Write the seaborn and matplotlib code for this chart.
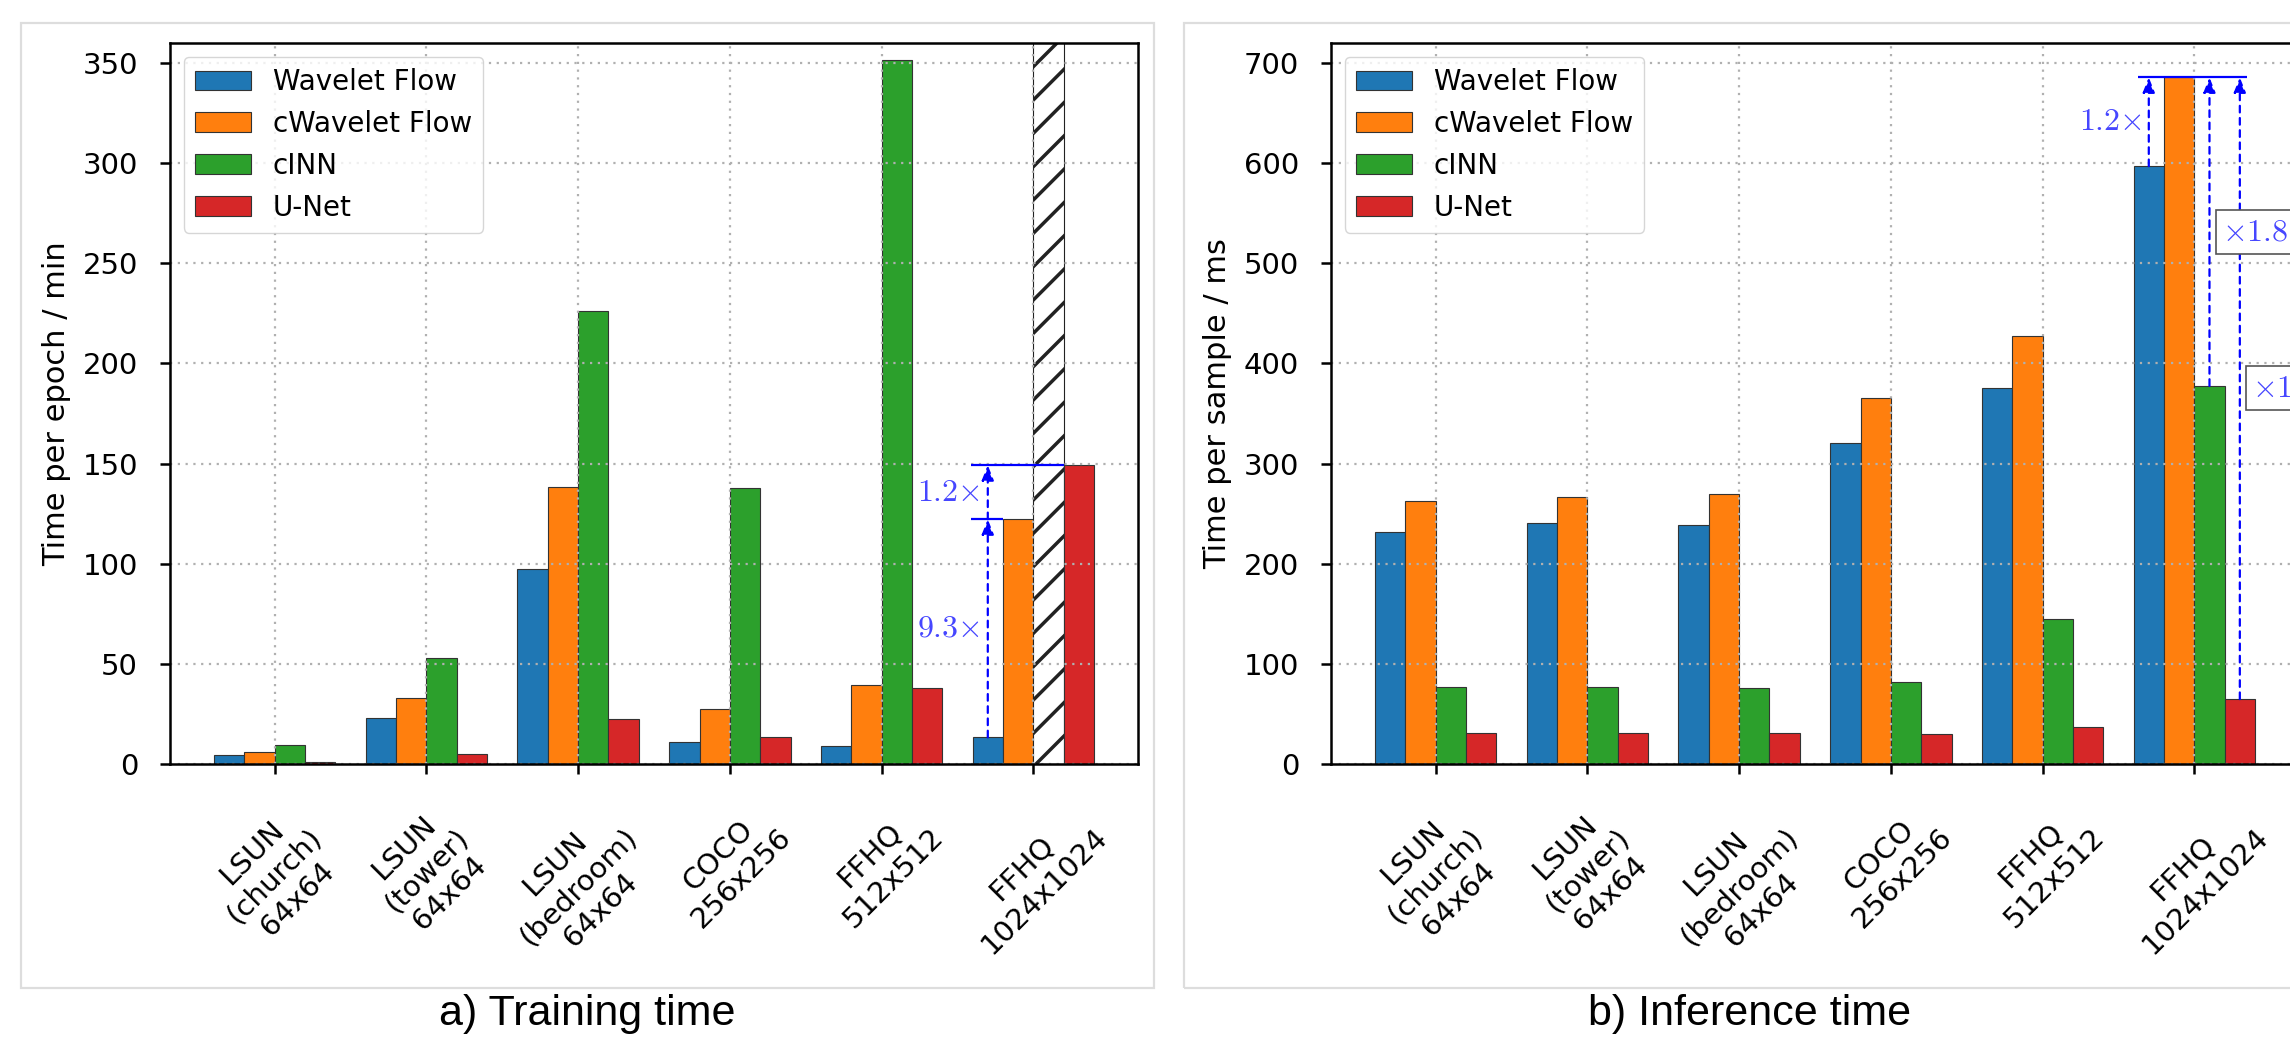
import numpy as np
import pandas as pd
import matplotlib
matplotlib.use("Agg")
import matplotlib.pyplot as plt
import seaborn as sns
from matplotlib.patches import Patch, Rectangle

# ---------------- data ----------------
datasets = ["LSUN\n(church)\n64x64", "LSUN\n(tower)\n64x64", "LSUN\n(bedroom)\n64x64",
            "COCO\n256x256", "FFHQ\n512x512", "FFHQ\n1024x1024"]
models = ["Wavelet Flow", "cWavelet Flow", "cINN", "U-Net"]
colors = ["#1f77b4", "#ff7f0e", "#2ca02c", "#d62728"]

# training time per epoch (min)
train_wavelet = [4.3, 23.2, 97.2, 11.0, 9.2, 13.3]
train_cwavelet = [6.1, 33.2, 138.5, 27.6, 39.5, 122.2]
train_cinn = [9.4, 52.8, 226.3, 137.8, 351.3, 400.0]   # last value is off the chart (hatched)
train_unet = [1.0, 5.1, 22.4, 13.3, 38.0, 149.2]

# inference time per sample (ms)
inf_wavelet = [231.6, 240.8, 238.3, 320.4, 375.5, 597.0]
inf_cwavelet = [262.8, 266.3, 269.4, 365.3, 427.0, 685.7]
inf_cinn = [76.5, 76.5, 75.5, 82.1, 144.9, 377.6]
inf_unet = [31.1, 31.1, 30.6, 30.1, 36.7, 64.8]

train_ratio_labels = [r"$9.3{\times}$", r"$1.2{\times}$"]
inf_ratio_labels = [r"$1.2{\times}$", r"${\times}1.8$", r"${\times}10.6$"]

# ---------------- style ----------------
plt.rcParams.update({
    "font.family": "DejaVu Sans",
    "mathtext.fontset": "cm",
    "hatch.linewidth": 2.5,
    "hatch.color": "black",
})

W, H = 2290, 1043
fig = plt.figure(figsize=(W / 100, H / 100), dpi=100)

ax_pos_a = [170 / W, (H - 764) / H, 968 / W, 721 / H]
ax_pos_b = [1331 / W, (H - 764) / H, 968 / W, 721 / H]
ax_a = fig.add_axes(ax_pos_a)
ax_b = fig.add_axes(ax_pos_b)

ANN = "blue"
TXT = "#4646ff"


def make_df(series):
    vals = np.concatenate(series)
    return pd.DataFrame({
        "dataset": datasets * len(models),
        "model": np.repeat(models, len(datasets)),
        "time": vals,
    })


def draw(ax, series, ylim, ylabel):
    df = make_df(series)
    sns.barplot(data=df, x="dataset", y="time", hue="model", order=datasets,
                hue_order=models, palette=colors, saturation=1, width=0.8,
                edgecolor="#333333", linewidth=0.8, errorbar=None, legend=False, ax=ax)
    ax.set_xlim(-0.69, len(datasets) - 1 + 0.69)
    ax.set_ylim(*ylim)
    ax.set_xlabel("")
    ax.set_ylabel(ylabel, fontsize=22)
    ax.yaxis.set_label_coords(-0.102, 0.5)
    ax.set_xticks(range(len(datasets)))
    ax.set_xticklabels(datasets, rotation=45, ha="center", va="top")
    ax.tick_params(axis="both", length=7, width=1.8, labelsize=21, direction="out")
    ax.tick_params(axis="x", pad=19)
    ax.tick_params(axis="y", pad=16)
    for s in ax.spines.values():
        s.set_linewidth(1.8)
        s.set_color("black")
    ax.grid(True, axis="both", color="#b0b0b0", linestyle=(0, (1, 2.5)), linewidth=1.6)
    handles = [Patch(facecolor=c, edgecolor="#333333", linewidth=0.8, label=m)
               for c, m in zip(colors, models)]
    ax.legend(handles=handles, loc="upper left", fontsize=20)


def arrow(ax, x, y0, y1):
    ax.annotate("", xy=(x, y1), xytext=(x, y0),
                arrowprops=dict(arrowstyle="-|>,head_length=0.45,head_width=0.18",
                                color=ANN, lw=1.6, linestyle=(0, (3, 2.5)),
                                shrinkA=0, shrinkB=0, mutation_scale=20),
                zorder=4)


def bar(ax, hue_i, cat_i):
    p = ax.containers[hue_i][cat_i]
    return p.get_x(), p.get_width(), p.get_height()


# ---------------- panel a ----------------
draw(ax_a, [train_wavelet, train_cwavelet, train_cinn, train_unet], (0, 360),
     "Time per epoch / min")
hp = ax_a.containers[2][5]
hp.set_facecolor("white")
hp.set_hatch("/")
hp.set_edgecolor("#222222")

bx, bw, bh = bar(ax_a, 0, 5)
ox, ow, oh = bar(ax_a, 1, 5)
ux, uw, uh = bar(ax_a, 3, 5)
xc = bx + bw / 2
ax_a.hlines(oh, bx - 0.01, ox, color=ANN, lw=1.6, zorder=4)
ax_a.hlines(uh, bx - 0.01, ux, color=ANN, lw=1.6, zorder=4)
arrow(ax_a, xc, bh, oh)
arrow(ax_a, xc, oh, uh)
ax_a.annotate(train_ratio_labels[0], xy=(xc, (bh + oh) / 2), xytext=(-6, 0),
              textcoords="offset points", ha="right", va="center", color=TXT, fontsize=23)
ax_a.annotate(train_ratio_labels[1], xy=(xc, (oh + uh) / 2), xytext=(-6, 0),
              textcoords="offset points", ha="right", va="center", color=TXT, fontsize=23)

# ---------------- panel b ----------------
draw(ax_b, [inf_wavelet, inf_cwavelet, inf_cinn, inf_unet], (0, 720),
     "Time per sample / ms")
bx, bw, bh = bar(ax_b, 0, 5)
ox, ow, oh = bar(ax_b, 1, 5)
gx, gw, gh = bar(ax_b, 2, 5)
ux, uw, uh = bar(ax_b, 3, 5)
ax_b.hlines(oh, bx + 0.03, ux + uw / 2 + 0.05, color=ANN, lw=1.6, zorder=4)
for (x0, w0, h0), lab, side in [((bx, bw, bh), inf_ratio_labels[0], "left"),
                                ((gx, gw, gh), inf_ratio_labels[1], "right"),
                                ((ux, uw, uh), inf_ratio_labels[2], "right")]:
    xc = x0 + w0 / 2
    arrow(ax_b, xc, h0, oh)
    if side == "left":
        ax_b.annotate(lab, xy=(xc, (h0 + oh) / 2), xytext=(-5, 0),
                      textcoords="offset points", ha="right", va="center",
                      color=TXT, fontsize=23, annotation_clip=False)
    else:
        ax_b.annotate(lab, xy=(xc, (h0 + oh) / 2), xytext=(9, 0),
                      textcoords="offset points", ha="left", va="center",
                      color=TXT, fontsize=23, annotation_clip=False,
                      bbox=dict(boxstyle="square,pad=0.2", fc="white", ec="#555555", lw=1.2),
                      zorder=5)

# ---------------- frames & captions ----------------
fig.add_artist(Rectangle((21 / W, (H - 988) / H), (1154 - 21) / W, (988 - 23) / H,
                         transform=fig.transFigure, fill=False, edgecolor="#dddddd", lw=1.6))
fig.add_artist(Rectangle((1184 / W, (H - 988) / H), (2317 - 1184) / W, (988 - 23) / H,
                         transform=fig.transFigure, fill=False, edgecolor="#dddddd", lw=1.6))
fig.text(587 / W, 1 - 1014 / H, "a) Training time", ha="center", va="center",
         fontsize=31, family=["Liberation Sans", "DejaVu Sans"])
fig.text(1750 / W, 1 - 1014 / H, "b) Inference time", ha="center", va="center",
         fontsize=31, family=["Liberation Sans", "DejaVu Sans"])

fig.savefig("out.png", dpi=100)
